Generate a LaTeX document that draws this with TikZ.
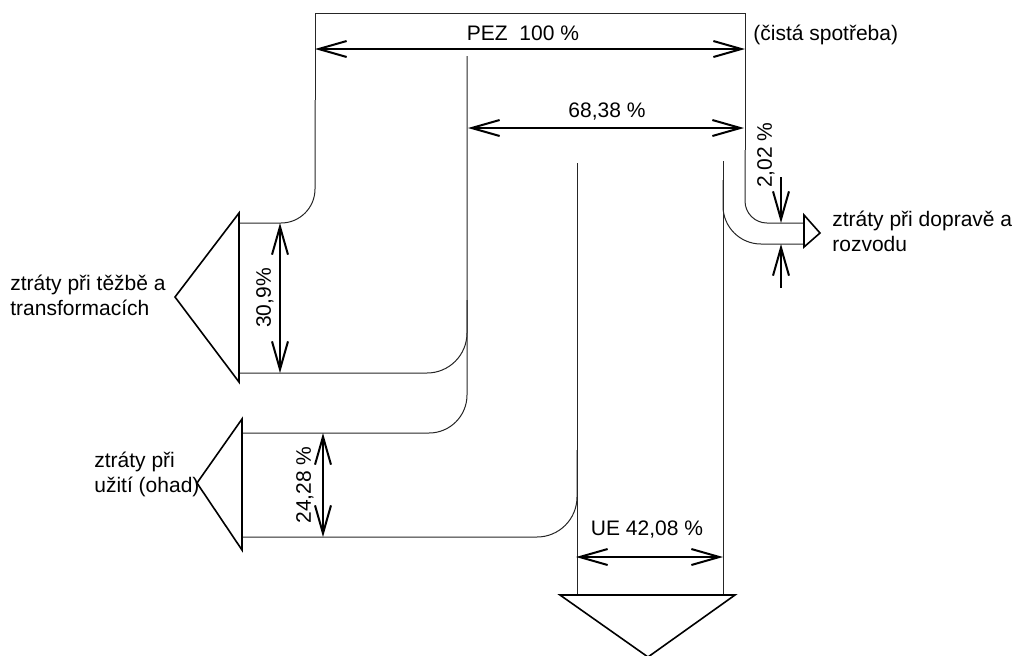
\documentclass[tikz,border=0pt]{standalone}
\usepackage{fontspec}
\setmainfont{Liberation Sans}
\usetikzlibrary{arrows.meta}

\begin{document}
\begin{tikzpicture}[x=0.5pt,y=-0.5pt,
  flow/.style={draw=black!85,line width=0.5pt},
  losstip/.style={draw,line width=0.8pt,line join=miter},
  dim/.style={{Straight Barb[length=14pt,width=8pt]}-{Straight Barb[length=14pt,width=8pt]},line width=1pt},
  dimin/.style={-{Straight Barb[length=14pt,width=8pt]},line width=1pt},
  lbl/.style={inner sep=0pt,font=\fontsize{10.5}{12.5}\selectfont},
  vlbl/.style={lbl,rotate=90}
]
\useasboundingbox (0,0) rectangle (1014,655);

% Main corner points of the flow
\coordinate (topL) at (315,13);
\coordinate (topR) at (745,13);
\coordinate (pezL) at (315,49);
\coordinate (pezR) at (745,49);
\coordinate (midL) at (467,56);
\coordinate (ueL)  at (577,163);
\coordinate (ueR)  at (723,161);

% Primary energy box (PEZ)
\draw[flow] (315,100) -- (topL) -- (topR) -- (745,150);
\draw[flow,rounded corners=17pt] (239,223) -- (315,223) -- (315,100);
\draw[flow,rounded corners=11pt] (745,150) -- (745,223) -- (804,223);

% Losses in mining and transformation
\draw[flow,rounded corners=20pt] (467,300) -- (467,373) -- (239,373);
\draw[flow,rounded corners=19pt] (midL) -- (467,433) -- (242,433);

% Losses in use
\draw[flow] (ueL) -- (577,595);
\draw[flow,rounded corners=20pt] (577,450) -- (577,537) -- (242,537);

% Losses in transport and distribution
\draw[flow] (ueR) -- (723,595);
\draw[flow,rounded corners=19pt] (723,180) -- (723,244) -- (804,244);

% Arrow heads of the flows
\draw[losstip] (239,213) -- (175,297) -- (239,382) -- cycle;
\draw[losstip] (242,419) -- (197,483) -- (242,550) -- cycle;
\draw[losstip] (804,215) -- (820,233) -- (804,247) -- cycle;
\draw[losstip] (560,595) -- (735,595) -- (648,657) -- cycle;

% Dimension arrows
\draw[dim] (pezL) -- (pezR);
\draw[dim] (468,128) -- (744,128);
\draw[dim] (576,557) -- (723,557);
\draw[dim] (280,223) -- (280,373);
\draw[dim] (323,433) -- (323,537);
\draw[dimin] (781,177) -- (781,223);
\draw[dimin] (781,288) -- (781,244);

% Labels
\node[lbl] (pez) at (523,33) {PEZ\ \ 100 \%};
\node[lbl,anchor=west] (net) at (753,35) {(čistá spotřeba)};
\node[lbl] (rest) at (607,112) {68,38 \%};
\node[lbl] (ue) at (647,530) {UE 42,08 \%};
\node[vlbl] (tz) at (265,298) {30,9\%};
\node[vlbl] (uz) at (305,485) {24,28 \%};
\node[vlbl] (dp) at (766,155) {2,02 \%};
\node[lbl,anchor=west,align=left] (tzt) at (10,295) {ztráty při těžbě a\\transformacích};
\node[lbl,anchor=west,align=left] (uzt) at (94,474) {ztráty při\\užití (ohad)};
\node[lbl,anchor=west,align=left] (dpt) at (832,231) {ztráty při dopravě a\\rozvodu};

\end{tikzpicture}
\end{document}
